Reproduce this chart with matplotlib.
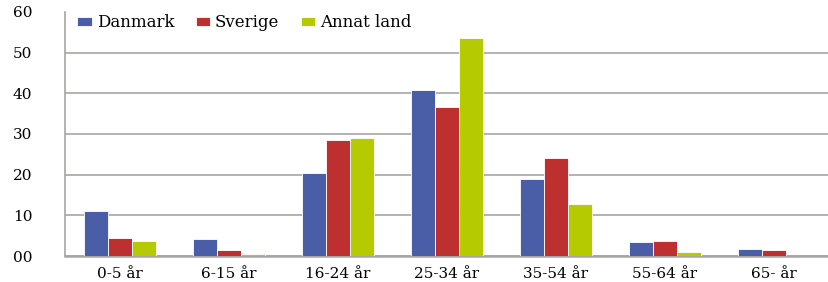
import numpy as np
import matplotlib
matplotlib.use('Agg')
import matplotlib.pyplot as plt

# Age groups and shares per country of birth
categories = ['0-5 år', '6-15 år', '16-24 år', '25-34 år', '35-54 år', '55-64 år', '65- år']
danmark = [11.1, 4.3, 20.3, 40.7, 18.9, 3.5, 1.7]
sverige = [4.4, 1.6, 28.5, 36.5, 24.0, 3.8, 1.5]
annat = [3.6, 0.4, 29.0, 53.6, 12.8, 0.9, 0.0]
series_names = ['Danmark', 'Sverige', 'Annat land']
colors = ['#4A5EA8', '#BE3030', '#B5CB00']
yticks = [0, 10, 20, 30, 40, 50, 60]

plt.rcParams['font.family'] = ['DejaVu Serif']

fig = plt.figure(figsize=(8.29, 2.82), dpi=100)
ax = fig.add_axes([0.079, 0.092, 0.92, 0.866])

x = np.arange(len(categories))
width = 0.22
for i, (vals, name, col) in enumerate(zip([danmark, sverige, annat], series_names, colors)):
    ax.bar(x + (i - 1) * width, vals, width, color=col, label=name,
           edgecolor='white', linewidth=0.6, zorder=3)

ax.set_xlim(-0.5, len(categories) - 0.5)
ax.set_ylim(0, 60)
ax.set_yticks(yticks)
ax.set_yticklabels([f'{v:02d}' for v in yticks])
ax.set_xticks(x)
ax.set_xticklabels(categories)
ax.tick_params(axis='both', length=0, colors='black')
ax.tick_params(axis='y', pad=24, labelsize=11)
ax.tick_params(axis='x', pad=8, labelsize=11)

ax.grid(axis='y', color='#A8A4A4', linewidth=1.2, zorder=0)
# no gridline drawn at the top value
ax.get_ygridlines()[-1].set_visible(False)
for side in ['top', 'right']:
    ax.spines[side].set_visible(False)
ax.spines['left'].set_color('#A8A4A4')
ax.spines['left'].set_linewidth(1.2)
ax.spines['bottom'].set_color('#A8A4A4')
ax.spines['bottom'].set_linewidth(1.8)

ax.legend(loc='center left', ncol=3, frameon=False, fontsize=12,
          handlelength=0.85, handleheight=0.5, handletextpad=0.3,
          columnspacing=1.3, bbox_to_anchor=(0.007, 0.955), borderaxespad=0)

fig.savefig('out.png', dpi=100)
